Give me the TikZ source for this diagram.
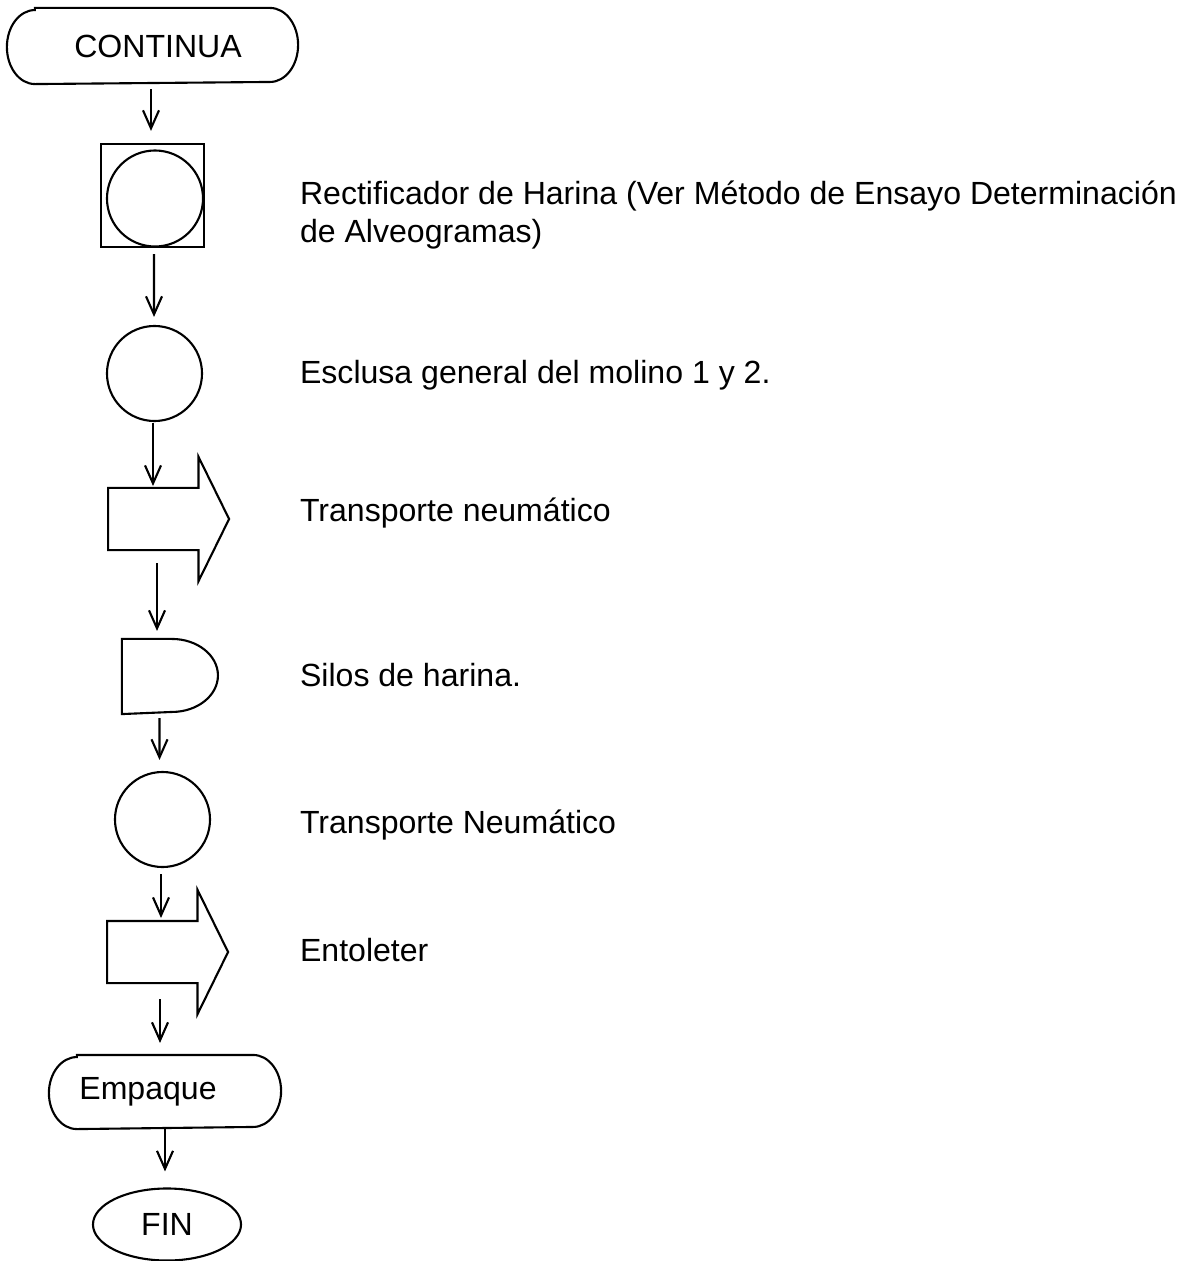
\documentclass[tikz,border=0pt]{standalone}
\usepackage{fontspec}
\setmainfont{Liberation Sans}
\usetikzlibrary{positioning,arrows.meta,calc,shapes.arrows,shapes.geometric}

\begin{document}
\begin{tikzpicture}[
    x=0.025cm, y=-0.025cm,
    font=\fontsize{22.8}{26.5}\selectfont,
    line width=1.5pt,
    terminal/.style={inner sep=0pt},
    disk/.style={draw, circle, inner sep=0pt, minimum size=2.375cm},
    convey/.style={draw, single arrow, single arrow head extend=0.775cm,
                   single arrow tip angle=127.6, minimum height=3.025cm,
                   inner xsep=0pt, inner ysep=0.75cm, anchor=tail},
    flow/.style={-{Straight Barb[length=4.5mm, width=4mm]}},
    note/.style={anchor=base west, inner sep=0pt, align=left},
  ]

  % ---------- page ----------
  \fill[white] (0,0) rectangle (1184,1261);
  \useasboundingbox (0,0) rectangle (1184,1261);

  % ---------- symbols, top to bottom ----------
  \node[terminal, minimum width=7.225cm, minimum height=1.85cm] (cont) at (152.5,46)
    {\hspace*{0.275cm}CONTINUA};
  \draw ($(cont.north west)+(28,0)$) -- ($(cont.north east)+(-28,0)$)
    arc[start angle=90, end angle=-90, x radius=0.7cm, y radius=0.925cm]
    -- ($(cont.south west)+(28,0)$)
    arc[start angle=270, end angle=90, x radius=0.7cm, y radius=0.925cm] -- cycle;

  \node[draw, minimum size=2.575cm, inner sep=0pt] (rect) at (152.5,195.5) {};
  \node[disk, minimum size=2.4cm] (rectc) at (155,198.5) {};

  \node[disk] (lock) at (154.5,373.5) {};

  \node[convey] (pneu1) at (107,519) {};

  \node[minimum width=2.4cm, minimum height=1.825cm, inner sep=0pt] (silo) at (171,676.5) {};
  \draw (silo.north west) -- ++(50,0)
    arc[start angle=90, end angle=-90, x radius=1.15cm, y radius=0.9125cm]
    -- (silo.south west) -- cycle;

  \node[disk] (sluice) at (162.5,819.5) {};

  \node[convey] (pneu2) at (106,952) {};

  \node[terminal, minimum width=5.75cm, minimum height=1.8cm] (pack) at (165,1092)
    {Empaque\hspace*{0.85cm}};
  \draw ($(pack.north west)+(28,0)$) -- ($(pack.north east)+(-28,0)$)
    arc[start angle=90, end angle=-90, x radius=0.7cm, y radius=0.9cm]
    -- ($(pack.south west)+(28,0)$)
    arc[start angle=270, end angle=90, x radius=0.7cm, y radius=0.9cm] -- cycle;

  \node[draw, ellipse, minimum width=3.7cm, minimum height=1.8cm, inner sep=0pt]
    (end) at (167,1224.5) {FIN};

  % ---------- flow arrows ----------
  \draw[flow] ($(cont.south)+(-1.5,5)$) -- ($(rect.north)+(-1.5,-12)$);
  \draw[flow] ($(rect.south)+(1.5,6)$) -- ($(lock.north)+(-0.5,-8)$);
  \draw[flow] ($(lock.south)+(-1.5,1)$) -- ($(pneu1.tail)+(46,-33)$);
  \draw[flow] ($(pneu1.tail)+(50,44)$) -- ($(silo.north)+(-14,-8)$);
  \draw[flow] ($(silo.south)+(-11.5,4)$) -- ($(sluice.north)+(-3,-11)$);
  \draw[flow] ($(sluice.south)+(-1.5,6)$) -- ($(pneu2.tail)+(55,-34)$);
  \draw[flow] ($(pneu2.tail)+(54,47)$) -- ($(pack.north)+(-5,-12)$);
  \draw[flow] (pack.south) -- ($(end.north)+(-2,-16)$);

  % ---------- descriptions ----------
  \node[note] (l1) at (299,242)
    {Rectificador de Harina (Ver Método de Ensayo Determinación\\de Alveogramas)};
  \node[note] (l2) at (299,383.5) {Esclusa general del molino 1 y 2.};
  \node[note] (l3) at (299,521) {Transporte neumático};
  \node[note] (l4) at (299,686) {Silos de harina.};
  \node[note] (l5) at (299,833) {Transporte Neumático};
  \node[note] (l6) at (299,961) {Entoleter};

\end{tikzpicture}
\end{document}
